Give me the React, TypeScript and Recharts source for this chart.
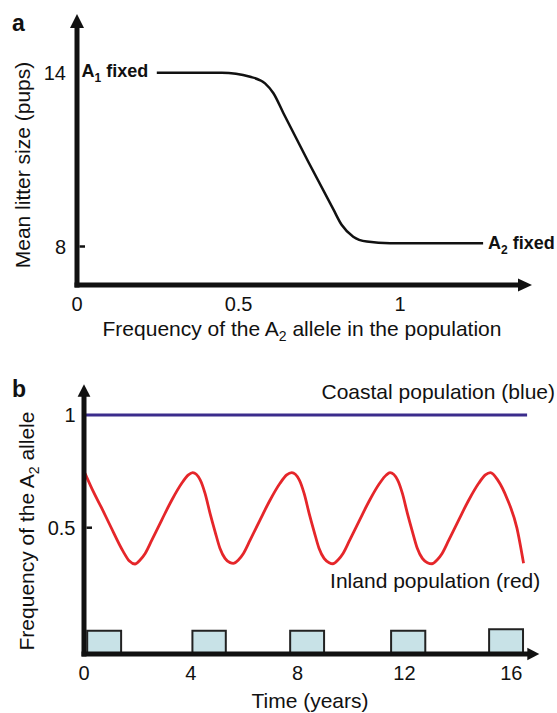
import React from 'react';
import { ComposedChart, Line, XAxis, YAxis, ReferenceDot, ReferenceArea, Label } from 'recharts';

const FONT = '"Liberation Sans", Arial, Helvetica, sans-serif';
const INK = '#111111';
const RED = '#e5262a';
const BLUE = '#3b2c8c';
const BOX_FILL = '#c8e2e7';
const BOX_STROKE = '#222222';

// ---------- Panel a ----------
const a2Frequency = [0.247, 0.448, 0.536, 0.582, 0.608, 0.639, 0.794, 0.819, 0.855, 0.897, 0.969, 1.257];
const meanLitterSize = [14, 14, 13.86, 13.63, 13.29, 12.6, 9.27, 8.75, 8.34, 8.17, 8.11, 8.11];
const aXTicks = [0, 0.5, 1];
const aXTickLabels = ['0', '0.5', '1'];
const aYTicks = [8, 14];
const aYTickLabels = ['8', '14'];
const aYTickMarks = [8];
const aXDomain: [number, number] = [0, 1.365];
const aYDomain: [number, number] = [6.671, 15.543];

// ---------- Panel b ----------
const inlandYears = [
  0.04, 0.35, 0.65, 0.97, 1.47, 1.7, 1.91,
  2.1, 2.29, 2.54, 2.91, 3.29, 3.66, 3.91, 4.07,
  4.35, 4.53, 4.72, 4.91, 5.09, 5.28, 5.47, 5.59,
  5.78, 5.97, 6.22, 6.59, 6.97, 7.34, 7.59, 7.78,
  8.06, 8.24, 8.43, 8.62, 8.8, 8.99, 9.18, 9.32,
  9.51, 9.7, 9.95, 10.32, 10.7, 11.07, 11.32, 11.46,
  11.74, 11.92, 12.11, 12.3, 12.48, 12.67, 12.86, 13.03,
  13.22, 13.41, 13.66, 14.03, 14.41, 14.78, 15.03, 15.22,
  15.5, 15.84, 16.21, 16.46,
];
const inlandFreq = [
  0.741, 0.66, 0.59, 0.512, 0.394, 0.352, 0.339,
  0.357, 0.386, 0.445, 0.534, 0.623, 0.697, 0.734, 0.744,
  0.712, 0.653, 0.564, 0.482, 0.409, 0.364, 0.345, 0.342,
  0.357, 0.386, 0.445, 0.534, 0.623, 0.697, 0.734, 0.744,
  0.712, 0.653, 0.564, 0.482, 0.409, 0.364, 0.345, 0.34,
  0.357, 0.386, 0.445, 0.534, 0.623, 0.697, 0.734, 0.744,
  0.712, 0.653, 0.564, 0.482, 0.409, 0.364, 0.345, 0.34,
  0.357, 0.386, 0.445, 0.534, 0.623, 0.697, 0.734, 0.744,
  0.71, 0.63, 0.499, 0.342,
];
const coastalYears = [0.07, 16.6];
const coastalFreq = [1, 1];
const boxStartYears = [0.12, 4.06, 7.72, 11.5, 15.17];
const boxEndYears = [1.39, 5.31, 8.99, 12.78, 16.44];
const boxTops = [0.043, 0.043, 0.043, 0.043, 0.049];
const bXTicks = [0, 4, 8, 12, 16];
const bXTickLabels = ['0', '4', '8', '12', '16'];
const bYTicks = [0.5, 1];
const bYTickLabels = ['0.5', '1'];
const bYTickMarks = [0.5];
const bXDomain: [number, number] = [0, 16.6];
const bYDomain: [number, number] = [-0.0603, 1.0812];

const curveA = a2Frequency.map((x, i) => ({ x, y: meanLitterSize[i] }));
const inlandData = inlandYears.map((t, i) => ({ t, f: inlandFreq[i] }));
const coastalData = coastalYears.map((t, i) => ({ t, f: coastalFreq[i] }));

const axisLineStyle = { stroke: INK, strokeWidth: 5, strokeLinecap: 'square' as const };

const yTick = (vals: number[], labels: string[], marks: number[], gap: number) => (p: any) => {
  const v = p.payload.value;
  const i = vals.indexOf(v);
  return (
    <g>
      {marks.includes(v) && (
        <line x1={p.x + 2.5} x2={p.x + 8} y1={p.y} y2={p.y} stroke={INK} strokeWidth={2.5} />
      )}
      <text x={p.x - gap} y={p.y + 7.2} textAnchor="end" fontSize={20} fontFamily={FONT} fill={INK}>
        {labels[i]}
      </text>
    </g>
  );
};

const xTick = (vals: number[], labels: string[], dy: number) => (p: any) => {
  const i = vals.indexOf(p.payload.value);
  return (
    <text x={p.x} y={p.y + dy} textAnchor="middle" fontSize={20} fontFamily={FONT} fill={INK}>
      {labels[i]}
    </text>
  );
};

const upArrow = (len: number, half: number) => (p: any) => (
  <polygon points={`${p.cx - half},${p.cy} ${p.cx + half},${p.cy} ${p.cx},${p.cy - len}`} fill={INK} />
);
const rightArrow = (len: number, half: number) => (p: any) => (
  <polygon points={`${p.cx},${p.cy - half} ${p.cx},${p.cy + half} ${p.cx + len},${p.cy}`} fill={INK} />
);

const panelLetter = (letter: string, dx: number, dy: number) => (p: any) => (
  <text x={p.cx + dx} y={p.cy + dy} fontSize={23} fontWeight="bold" fontFamily={FONT} fill={INK}>
    {letter}
  </text>
);

const fixedLabel = (num: string, dx: number, dy: number, anchor: 'start' | 'end') => (p: any) => (
  <text
    x={p.cx + dx}
    y={p.cy + dy}
    textAnchor={anchor}
    fontSize={18}
    fontWeight="bold"
    fontFamily={FONT}
    fill={INK}
  >
    A
    <tspan dy={5} fontSize={12}>
      {num}
    </tspan>
    <tspan dy={-5}>{' fixed'}</tspan>
  </text>
);

const plainLabel = (txt: string, dx: number, dy: number) => (p: any) => (
  <text x={p.cx + dx} y={p.cy + dy} textAnchor="end" fontSize={21} fontFamily={FONT} fill={INK}>
    {txt}
  </text>
);

const xTitleA = (props: any) => {
  const vb = props.viewBox || { x: 0, y: 0 };
  return (
    <text x={vb.x + 225} y={vb.y + 51} textAnchor="middle" fontSize={21} fontFamily={FONT} fill={INK}>
      Frequency of the A
      <tspan dy={5} fontSize={14}>
        2
      </tspan>
      <tspan dy={-5}>{' allele in the population'}</tspan>
    </text>
  );
};

const yTitleA = (props: any) => {
  const vb = props.viewBox || { x: 0, y: 0 };
  const x = vb.x + 29.5;
  const y = vb.y + 137;
  return (
    <text
      x={x}
      y={y}
      transform={`rotate(-90, ${x}, ${y})`}
      textAnchor="middle"
      fontSize={21}
      fontFamily={FONT}
      fill={INK}
    >
      Mean litter size (pups)
    </text>
  );
};

const xTitleB = (props: any) => {
  const vb = props.viewBox || { x: 0, y: 0 };
  return (
    <text x={vb.x + 226} y={vb.y + 54} textAnchor="middle" fontSize={21} fontFamily={FONT} fill={INK}>
      Time (years)
    </text>
  );
};

const yTitleB = (props: any) => {
  const vb = props.viewBox || { x: 0, y: 0 };
  const x = vb.x + 34;
  const y = vb.y + 134.3;
  return (
    <text
      x={x}
      y={y}
      transform={`rotate(-90, ${x}, ${y})`}
      textAnchor="middle"
      fontSize={21}
      fontFamily={FONT}
      fill={INK}
    >
      Frequency of the A
      <tspan dy={5} fontSize={14}>
        2
      </tspan>
      <tspan dy={-5}>{' allele'}</tspan>
    </text>
  );
};

export default function App() {
  return (
    <div style={{ position: 'absolute', left: 0, top: 0, width: 557, height: 713, background: '#fff' }}>
      <div style={{ position: 'absolute', left: 0, top: 0 }}>
        <ComposedChart width={557} height={360} data={curveA} margin={{ top: 28, right: 39, bottom: 0, left: 0 }}>
          <XAxis
            dataKey="x"
            type="number"
            domain={aXDomain}
            allowDataOverflow
            ticks={aXTicks}
            interval={0}
            height={75}
            tickSize={0}
            tickMargin={0}
            tickLine={false}
            axisLine={axisLineStyle}
            tick={xTick(aXTicks, aXTickLabels, 26)}
          >
            <Label content={xTitleA} />
          </XAxis>
          <YAxis
            type="number"
            domain={aYDomain}
            allowDataOverflow
            ticks={aYTicks}
            interval={0}
            width={77}
            tickSize={0}
            tickMargin={0}
            tickLine={false}
            axisLine={axisLineStyle}
            tick={yTick(aYTicks, aYTickLabels, aYTickMarks, 11)}
          >
            <Label content={yTitleA} />
          </YAxis>
          <Line
            dataKey="y"
            type="monotone"
            stroke={INK}
            strokeWidth={2.5}
            dot={false}
            activeDot={false}
            isAnimationActive={false}
          />
          <ReferenceDot x={aXDomain[0]} y={aYDomain[1]} ifOverflow="visible" shape={upArrow(14, 7)} />
          <ReferenceDot x={aXDomain[1]} y={aYDomain[0]} ifOverflow="visible" shape={rightArrow(14, 6.5)} />
          <ReferenceDot x={aXDomain[0]} y={aYDomain[1]} ifOverflow="visible" shape={panelLetter('a', -65, 2.7)} />
          <ReferenceDot
            x={a2Frequency[0]}
            y={meanLitterSize[0]}
            ifOverflow="visible"
            shape={fixedLabel('1', -8.5, 4.6, 'end')}
          />
          <ReferenceDot
            x={a2Frequency[a2Frequency.length - 1]}
            y={meanLitterSize[meanLitterSize.length - 1]}
            ifOverflow="visible"
            shape={fixedLabel('2', 5, 5.2, 'start')}
          />
        </ComposedChart>
      </div>
      <div style={{ position: 'absolute', left: 0, top: 360 }}>
        <ComposedChart width={557} height={353} margin={{ top: 36.7, right: 29.7, bottom: 0, left: 0 }}>
          <XAxis
            dataKey="t"
            type="number"
            domain={bXDomain}
            allowDataOverflow
            ticks={bXTicks}
            interval={0}
            height={59}
            tickSize={0}
            tickMargin={0}
            tickLine={false}
            axisLine={axisLineStyle}
            tick={xTick(bXTicks, bXTickLabels, 26)}
          >
            <Label content={xTitleB} />
          </XAxis>
          <YAxis
            type="number"
            domain={bYDomain}
            allowDataOverflow
            ticks={bYTicks}
            interval={0}
            width={84}
            tickSize={0}
            tickMargin={0}
            tickLine={false}
            axisLine={axisLineStyle}
            tick={yTick(bYTicks, bYTickLabels, bYTickMarks, 8.5)}
          >
            <Label content={yTitleB} />
          </YAxis>
          {boxStartYears.map((s, i) => (
            <ReferenceArea
              key={`box-${i}`}
              x1={s}
              x2={boxEndYears[i]}
              y1={bYDomain[0]}
              y2={boxTops[i]}
              fill={BOX_FILL}
              fillOpacity={1}
              stroke={BOX_STROKE}
              strokeWidth={2}
              ifOverflow="visible"
            />
          ))}
          <Line
            data={coastalData}
            dataKey="f"
            type="linear"
            stroke={BLUE}
            strokeWidth={3}
            dot={false}
            activeDot={false}
            isAnimationActive={false}
          />
          <Line
            data={inlandData}
            dataKey="f"
            type="monotone"
            stroke={RED}
            strokeWidth={2.8}
            dot={false}
            activeDot={false}
            isAnimationActive={false}
          />
          <ReferenceDot x={bXDomain[0]} y={bYDomain[1]} ifOverflow="visible" shape={upArrow(12.4, 6.4)} />
          <ReferenceDot x={bXDomain[1]} y={bYDomain[0]} ifOverflow="visible" shape={rightArrow(12, 6.3)} />
          <ReferenceDot x={bXDomain[0]} y={bYDomain[1]} ifOverflow="visible" shape={panelLetter('b', -72, 0.3)} />
          <ReferenceDot
            x={coastalYears[coastalYears.length - 1]}
            y={coastalFreq[coastalFreq.length - 1]}
            ifOverflow="visible"
            shape={plainLabel('Coastal population (blue)', 27.7, -16)}
          />
          <ReferenceDot
            x={inlandYears[inlandYears.length - 1]}
            y={inlandFreq[inlandFreq.length - 1]}
            ifOverflow="visible"
            shape={plainLabel('Inland population (red)', 16.7, 24.7)}
          />
        </ComposedChart>
      </div>
    </div>
  );
}
